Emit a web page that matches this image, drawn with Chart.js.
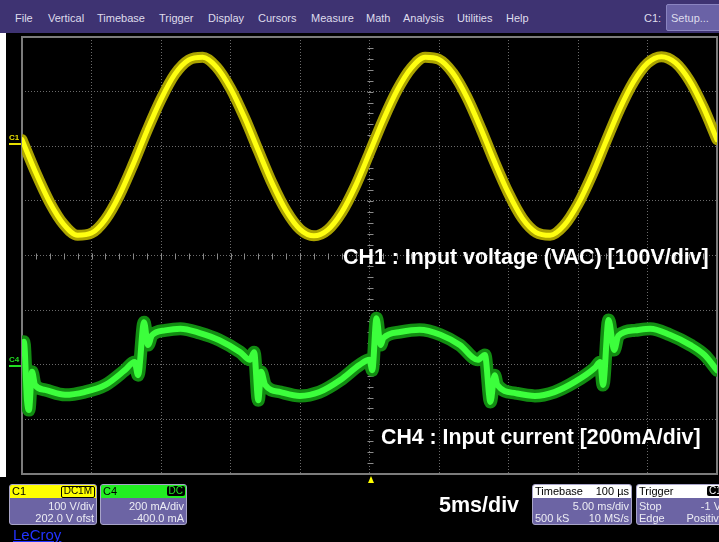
<!DOCTYPE html>
<html>
<head>
<meta charset="utf-8">
<script src="https://cdn.jsdelivr.net/npm/chart.js@4.4.1/dist/chart.umd.min.js"></script>
<style>
body { margin: 0; width: 719px; height: 542px; overflow: hidden; position: relative; background: #000; font-family: "Liberation Sans", Arial, sans-serif; }
#scope { position: absolute; left: 0; top: 0; }
.menu { position: absolute; left: 0; top: 0; width: 719px; height: 33px; background: #3e3372; }
.menu span { position: absolute; top: 12px; font-size: 11px; color: #dedcec; line-height: 13px; }
.setup { position: absolute; left: 666px; top: 4px; width: 56px; height: 27px; background: #6a62a6; border: 1px solid #8a84c0; border-radius: 2px; box-sizing: border-box; }
.setup span { left: 4px; top: 7px; }
.strip { position: absolute; left: 0; top: 33px; width: 6px; height: 444px; background: #fff; }
.note { position: absolute; color: #fff; font-weight: bold; white-space: nowrap; }
.mark { position: absolute; font-size: 8px; font-weight: bold; line-height: 8px; }
.markline { position: absolute; width: 12px; height: 2px; }
.trig { position: absolute; left: 368px; top: 476px; width: 0; height: 0; border-left: 3.5px solid transparent; border-right: 3.5px solid transparent; border-bottom: 7px solid #ffff00; }
.panel { position: absolute; top: 484px; height: 41px; border: 1px solid #a8a4c8; border-radius: 3px; background: #6c64a4; overflow: hidden; box-sizing: border-box; font-size: 11px; color: #ececf4; }
.panel .hd { height: 13px; position: relative; color: #000; line-height: 13px; }
.panel .row { position: relative; height: 12px; line-height: 12px; }
.l { position: absolute; left: 2px; }
.r { position: absolute; right: 2px; }
.badge { position: absolute; top: 1px; height: 10px; line-height: 10px; padding: 0 2px; border-radius: 2px; font-size: 10px; }
.lecroy { position: absolute; left: 13px; top: 526px; font-size: 15px; color: #2233ff; text-decoration: underline; }
</style>
</head>
<body>
<canvas id="scope" width="719" height="542"></canvas>

<div class="menu">
  <span style="left:15px">File</span>
  <span style="left:48px">Vertical</span>
  <span style="left:97px">Timebase</span>
  <span style="left:159px">Trigger</span>
  <span style="left:208px">Display</span>
  <span style="left:258px">Cursors</span>
  <span style="left:311px">Measure</span>
  <span style="left:366px">Math</span>
  <span style="left:403px">Analysis</span>
  <span style="left:457px">Utilities</span>
  <span style="left:506px">Help</span>
  <span style="left:644px">C1:</span>
  <div class="setup"><span>Setup...</span></div>
</div>
<div class="strip"></div>

<div class="mark" style="left:9px;top:134px;color:#e8e000">C1</div>
<div class="markline" style="left:9px;top:143px;background:#e8e000"></div>
<div class="mark" style="left:9px;top:356px;color:#22dd22">C4</div>
<div class="markline" style="left:9px;top:365px;background:#22dd22"></div>
<div class="trig"></div>

<div class="note" style="left:343px;top:245px;font-size:21.4px;line-height:24px">CH1 : Input voltage (VAC) [100V/div]</div>
<div class="note" style="left:381px;top:425px;font-size:21.3px;line-height:24px">CH4 : Input current [200mA/div]</div>
<div class="note" style="left:439px;top:492px;font-size:21.5px;line-height:26px">5ms/div</div>

<div class="panel" style="left:9px;width:88px">
  <div class="hd" style="background:#ffff00"><span class="l">C1</span><span class="badge" style="right:1px;border:1px solid #000;line-height:8px">DC1M</span></div>
  <div class="row" style="margin-top:2px"><span class="r">100 V/div</span></div>
  <div class="row"><span class="r">202.0 V ofst</span></div>
</div>
<div class="panel" style="left:100px;width:87px">
  <div class="hd" style="background:#22ee22"><span class="l">C4</span><span class="badge" style="right:1px;background:#000;color:#22ee22">DC</span></div>
  <div class="row" style="margin-top:2px"><span class="r">200 mA/div</span></div>
  <div class="row"><span class="r">-400.0 mA</span></div>
</div>
<div class="panel" style="left:532px;width:100px">
  <div class="hd" style="background:#fff"><span class="l">Timebase</span><span class="r">100 µs</span></div>
  <div class="row" style="margin-top:2px"><span class="r">5.00 ms/div</span></div>
  <div class="row"><span class="l">500 kS</span><span class="r">10 MS/s</span></div>
</div>
<div class="panel" style="left:636px;width:100px">
  <div class="hd" style="background:#fff"><span class="l">Trigger</span><span class="badge" style="left:70px;background:#000;color:#fff">C1</span></div>
  <div class="row" style="margin-top:2px"><span class="l">Stop</span><span class="r" style="right:14px">-1 V</span></div>
  <div class="row"><span class="l">Edge</span><span class="r" style="right:10px">Positive</span></div>
</div>
<div class="lecroy">LeCroy</div>

<script>
// time axis in ms (5 ms/div, 10 div), amplitude in divisions from screen centre
var timeCh1 = [0,1,2,3,4,5,6,7,8,9,10,11,12,13,14,15,16,17,18,19,20,21,22,23,24,25,
    26,27,28,29,30,31,32,33,34,35,36,37,38,39,40,41,42,43,44,45,46,47,48,49,50];
var ch1Div = [2.12,1.51,0.97,0.57,0.37,0.41,0.66,1.10,1.67,2.29,2.86,3.32,3.58,3.63,3.45,3.06,
    2.53,1.92,1.32,0.82,0.48,0.36,0.47,0.79,1.28,1.88,2.49,3.03,3.43,3.63,3.59,3.34,2.90,2.33,
    1.71,1.14,0.68,0.42,0.37,0.55,0.94,1.47,2.08,2.68,3.18,3.52,3.64,3.53,3.21,2.72,2.12];

var timeCh4 = [0,0.14,0.36,0.5,0.72,0.94,1.65,3.1,4.5,6.0,7.4,8.1,8.35,8.78,9.06,9.35,10.3,11.4,
    12.8,14.2,15.7,16.4,16.7,17.0,17.2,17.5,18.6,20.0,21.4,22.9,24.3,25.0,25.2,25.5,25.8,26.0,
    27.2,28.6,30.1,31.5,32.8,33.3,33.7,34.0,34.2,35.5,36.9,38.3,39.8,41.2,41.6,41.8,42.2,42.6,
    42.9,44.1,45.2,46.6,48.1,49.1,50.0];
var ch4Div = [-1.73,-1.58,-2.65,-2.83,-2.13,-2.37,-2.46,-2.55,-2.50,-2.37,-2.10,-1.95,-2.19,-1.22,
    -1.64,-1.46,-1.37,-1.34,-1.42,-1.55,-1.77,-1.91,-1.77,-2.65,-2.13,-2.37,-2.50,-2.57,-2.50,
    -2.28,-2.00,-1.91,-2.10,-1.15,-1.64,-1.51,-1.40,-1.36,-1.45,-1.64,-1.91,-1.82,-2.68,-2.19,
    -2.37,-2.52,-2.57,-2.50,-2.31,-2.06,-1.95,-2.37,-1.18,-1.73,-1.47,-1.37,-1.34,-1.45,-1.64,
    -1.82,-2.10];

function toPoints(xs, ys) {
    var pts = [];
    for (var i = 0; i < xs.length; i++) {
        pts.push({x: xs[i], y: ys[i]});
    }
    return pts;
}

// frame and centre cross with sub-division ticks
var scopeFrame = {
    id: 'scopeFrame',
    beforeDatasetsDraw: function(chart) {
        var ctx = chart.ctx;
        var x = chart.scales.x, y = chart.scales.y;
        var cx = Math.round(x.getPixelForValue(25)) + 0.5;
        var cy = Math.round(y.getPixelForValue(0)) + 0.5;
        ctx.save();
        ctx.strokeStyle = '#8a8a8a';
        ctx.lineWidth = 1;
        ctx.beginPath();
        for (var t = 0; t <= 50; t += 1) {
            var px = Math.round(x.getPixelForValue(t)) + 0.5;
            ctx.moveTo(px, cy - 3);
            ctx.lineTo(px, cy + 3);
        }
        for (var d = -4; d <= 4.001; d += 0.2) {
            var py = Math.round(y.getPixelForValue(d)) + 0.5;
            ctx.moveTo(cx - 3, py);
            ctx.lineTo(cx + 3, py);
        }
        ctx.stroke();
        var a = chart.chartArea;
        ctx.strokeStyle = '#7c7c7c';
        ctx.lineWidth = 2;
        ctx.strokeRect(a.left, a.top, a.right - a.left, a.bottom - a.top);
        ctx.restore();
    }
};

new Chart(document.getElementById('scope'), {
    type: 'line',
    data: {
        datasets: [
            { data: toPoints(timeCh1, ch1Div), borderColor: '#ffff10', borderWidth: 5, order: 0 },
            { data: toPoints(timeCh1, ch1Div), borderColor: '#aca400', borderWidth: 11, order: 1 },
            { data: toPoints(timeCh4, ch4Div), borderColor: '#3cff3c', borderWidth: 6, order: 0 },
            { data: toPoints(timeCh4, ch4Div), borderColor: '#128c12', borderWidth: 13, order: 1 }
        ]
    },
    options: {
        responsive: false,
        animation: false,
        layout: { padding: { left: 22, top: 37, right: 2, bottom: 68 } },
        elements: {
            point: { radius: 0 },
            line: { cubicInterpolationMode: 'monotone', borderCapStyle: 'round', borderJoinStyle: 'round' }
        },
        plugins: { legend: { display: false }, tooltip: { enabled: false } },
        scales: {
            x: {
                type: 'linear', min: 0, max: 50,
                ticks: { display: false, stepSize: 5 },
                grid: { color: '#6a6a6a', drawTicks: false },
                border: { display: false, dash: [1, 2] }
            },
            y: {
                type: 'linear', min: -4, max: 4,
                ticks: { display: false, stepSize: 1 },
                grid: { color: '#6a6a6a', drawTicks: false },
                border: { display: false, dash: [1, 2] }
            }
        }
    },
    plugins: [scopeFrame]
});
</script>
</body>
</html>
